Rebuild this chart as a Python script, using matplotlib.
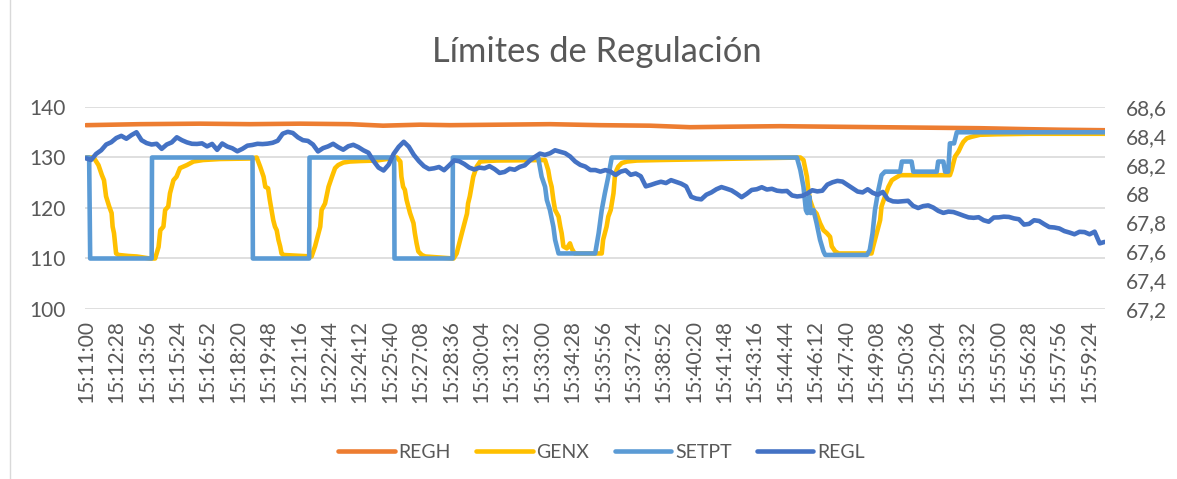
import numpy as np
import matplotlib
matplotlib.use('Agg')
import matplotlib.pyplot as plt
from matplotlib.ticker import FuncFormatter
from matplotlib.lines import Line2D

plt.rcParams['font.family'] = ['Lato', 'DejaVu Sans']

#====================================== DATA (seconds after 15:11:00) ======================================
TIME_LABELS = ['15:11:00', '15:12:28', '15:13:56', '15:15:24', '15:16:52', '15:18:20', '15:19:48',
               '15:21:16', '15:22:44', '15:24:12', '15:25:40', '15:27:08', '15:28:36', '15:30:04',
               '15:31:32', '15:33:00', '15:34:28', '15:35:56', '15:37:24', '15:38:52', '15:40:20',
               '15:41:48', '15:43:16', '15:44:44', '15:46:12', '15:47:40', '15:49:08', '15:50:36',
               '15:52:04', '15:53:32', '15:55:00', '15:56:28', '15:57:56', '15:59:24']
LABEL_STEP = 88
T_END = 2950

regh_t = [0, 156, 330, 475, 620, 764, 860, 967, 1054, 1199, 1343, 1489, 1633, 1749, 1865, 2009,
          2154, 2299, 2444, 2588, 2733, 2820, 2950]
regh = [136.4, 136.6, 136.7, 136.6, 136.7, 136.6, 136.3, 136.5, 136.4, 136.5, 136.6, 136.4, 136.3,
        136.0, 136.1, 136.2, 136.1, 136.0, 135.9, 135.8, 135.6, 135.5, 135.4]

genx_t = [0, 22, 36, 46, 52, 58, 67, 74, 77, 81, 87, 94, 123, 147, 185,
          200, 210, 215, 224, 229, 238, 243, 253, 262, 272, 292, 311, 339, 388, 475,
          494, 504, 514, 519, 527, 532, 537, 542, 547, 552, 557, 562, 566, 571, 648,
          653, 663, 668, 678, 682, 692, 702, 712, 721, 730, 745, 764, 794, 841,
          900, 910, 913, 918, 923, 928, 933, 938, 948, 952, 957, 962, 972, 982, 1064,
          1073, 1083, 1088, 1093, 1103, 1106, 1111, 1116, 1121, 1131, 1141, 1160, 1189,
          1329, 1338, 1343, 1348, 1353, 1358, 1368, 1373, 1377, 1382, 1392, 1401, 1406, 1411, 1415, 1493,
          1497, 1507, 1512, 1519, 1527, 1531, 1536, 1541, 1551, 1566, 1595, 1662,
          2068, 2077, 2087, 2091, 2096, 2106, 2115, 2125, 2135, 2145, 2154, 2159, 2169, 2179, 2269,
          2274, 2279, 2289, 2299, 2303, 2313, 2323, 2333, 2342, 2357, 2501,
          2506, 2511, 2516, 2526, 2535, 2540, 2550, 2564, 2588, 2637, 2733, 2950]
genx = [130, 130, 128.5, 126.5, 125.5, 122.3, 120.3, 119.0, 116.3, 115.0, 111.0, 110.7, 110.5, 110.4, 110.0,
        110.0, 112.3, 115.6, 116.3, 119.6, 120.3, 122.9, 125.5, 126.2, 127.9, 128.5, 129.2, 129.5, 129.7, 129.8,
        130, 128.2, 126.2, 124.2, 123.9, 121.6, 119.6, 117.6, 116.3, 115.6, 113.7, 112.4, 111.0, 110.7, 110.4,
        110.4, 112.4, 113.7, 116.3, 119.6, 120.9, 124.2, 126.2, 127.9, 128.5, 129.0, 129.2, 129.3, 129.4,
        130, 129.2, 126.2, 124.2, 123.6, 121.6, 120.3, 119.0, 117.0, 115.0, 113.0, 111.4, 110.7, 110.4, 110.0,
        111.0, 113.7, 115.0, 116.3, 118.9, 120.9, 122.3, 124.2, 126.2, 128.2, 129.2, 129.3, 129.4,
        129.5, 127.5, 125.5, 124.2, 121.6, 119.6, 118.3, 116.3, 115.0, 112.4, 112.0, 113.0, 112.0, 111.4, 111.0, 111.0,
        113.7, 116.3, 118.3, 119.6, 122.9, 126.2, 127.5, 128.2, 128.9, 129.2, 129.4, 129.5,
        130, 129.5, 126.2, 123.6, 121.6, 119.6, 118.9, 117.0, 115.6, 115.0, 114.3, 112.4, 111.4, 111.0, 111.0,
        111.0, 112.4, 115.0, 117.6, 120.3, 122.3, 124.2, 125.5, 125.9, 126.5, 126.5,
        127.5, 128.9, 130.2, 131.2, 132.5, 133.1, 133.8, 134.1, 134.5, 134.6, 134.7, 134.7]

setpt_t = [0, 9, 12, 190, 191, 482, 483, 646, 647, 892, 893, 1061, 1062,
           1309, 1319, 1329, 1334, 1343, 1353, 1358, 1368, 1474, 1484, 1493, 1502, 1512, 1522,
           2058, 2068, 2077, 2084, 2088, 2094, 2098, 2106, 2115, 2125, 2135, 2140,
           2261, 2269, 2277, 2284, 2294, 2303, 2313, 2357, 2362, 2390, 2395,
           2463, 2467, 2482, 2487, 2496, 2501, 2513, 2521, 2950]
setpt = [130, 130, 110, 110, 130, 130, 110, 110, 130, 130, 110, 110, 130,
         130, 126.2, 124.2, 121.6, 119.6, 116.3, 113.7, 111.0, 111.0, 115.0, 119.6, 122.9, 126.2, 130,
         130, 127.5, 124.2, 119.6, 119.0, 122.3, 119.0, 119.6, 117.0, 113.7, 111.4, 110.7,
         110.7, 111.7, 115.0, 119.6, 123.6, 126.5, 127.2, 127.2, 129.2, 129.2, 127.2,
         127.2, 129.2, 129.2, 127.2, 127.2, 132.8, 132.8, 135.0, 135.0]

# REGL sampled every 14.6 s (secondary axis)
REGL_STEP = 14.6
regl = [68.244, 68.233, 68.275, 68.30, 68.34, 68.356, 68.385, 68.40, 68.38, 68.405,
        68.425, 68.37, 68.35, 68.34, 68.345, 68.31, 68.34, 68.355, 68.39, 68.37,
        68.355, 68.345, 68.344, 68.348, 68.327, 68.344, 68.303, 68.347, 68.326, 68.314,
        68.293, 68.31, 68.332, 68.337, 68.345, 68.343, 68.346, 68.352, 68.366, 68.415,
        68.428, 68.42, 68.39, 68.37, 68.365, 68.34, 68.292, 68.315, 68.327, 68.345,
        68.322, 68.304, 68.328, 68.338, 68.322, 68.30, 68.283, 68.226, 68.18, 68.16,
        68.20, 68.275, 68.324, 68.359, 68.325, 68.268, 68.225, 68.19, 68.17, 68.175,
        68.184, 68.162, 68.195, 68.23, 68.224, 68.205, 68.18, 68.167, 68.18, 68.175,
        68.19, 68.17, 68.143, 68.15, 68.172, 68.165, 68.185, 68.196, 68.229, 68.254,
        68.277, 68.268, 68.279, 68.30, 68.29, 68.28, 68.257, 68.222, 68.199, 68.187,
        68.163, 68.163, 68.152, 68.163, 68.152, 68.129, 68.152, 68.161, 68.13, 68.139,
        68.12, 68.05, 68.06, 68.072, 68.082, 68.073, 68.093, 68.081, 68.069, 68.05,
        67.978, 67.965, 67.96, 67.992, 68.008, 68.03, 68.045, 68.034, 68.022, 68.0,
        67.975, 67.998, 68.025, 68.03, 68.044, 68.028, 68.033, 68.02, 68.016, 68.018,
        67.987, 67.98, 67.984, 68.0, 68.023, 68.015, 68.02, 68.062, 68.078, 68.088,
        68.083, 68.06, 68.037, 68.014, 68.008, 68.03, 68.005, 67.992, 68.011, 67.96,
        67.946, 67.944, 67.947, 67.95, 67.915, 67.90, 67.913, 67.918, 67.903, 67.88,
        67.866, 67.875, 67.872, 67.86, 67.847, 67.835, 67.832, 67.836, 67.815, 67.805,
        67.834, 67.835, 67.84, 67.838, 67.828, 67.822, 67.785, 67.79, 67.815, 67.81,
        67.788, 67.768, 67.765, 67.758, 67.74, 67.73, 67.718, 67.735, 67.733, 67.718,
        67.736, 67.655, 67.665]
regl_t = np.arange(len(regl)) * REGL_STEP

#====================================== STYLE ======================================
C_REGH, C_GENX, C_SETPT, C_REGL = '#ED7D31', '#FFC000', '#5B9BD5', '#4472C4'
TXT = '#595959'
LW = 3.3
line_kw = dict(lw=LW, solid_capstyle='round', solid_joinstyle='round')

fig = plt.figure(figsize=(11.77, 4.79), dpi=100)
ax = fig.add_axes([85 / 1177, 1 - 309 / 479, 1020 / 1177, 202 / 479])
ax2 = ax.twinx()

ax.plot(regh_t, regh, color=C_REGH, label='REGH', **line_kw)
ax.plot(genx_t, genx, color=C_GENX, label='GENX', **line_kw)
ax.plot(setpt_t, setpt, color=C_SETPT, label='SETPT', **line_kw)
ax2.plot(regl_t, regl, color=C_REGL, label='REGL', **line_kw)

ax.set_xlim(-3, T_END)
ax.set_ylim(100, 140)
ax2.set_ylim(67.2, 68.6)
ax.set_yticks(np.arange(100, 141, 10))
ax2.set_yticks(np.arange(67.2, 68.61, 0.2))
ax2.yaxis.set_major_formatter(FuncFormatter(lambda v, p: ('%g' % round(v, 1)).replace('.', ',')))

ax.set_xticks(np.arange(len(TIME_LABELS)) * LABEL_STEP)
ax.set_xticklabels(TIME_LABELS, rotation=90)

ax.grid(axis='y', color='#D9D9D9', lw=1.2)
ax.set_axisbelow(True)
for a in (ax, ax2):
    for s in a.spines.values():
        s.set_visible(False)
ax.tick_params(axis='y', length=0, pad=14, labelsize=15, labelcolor=TXT)
ax.tick_params(axis='x', length=0, pad=8, labelsize=15, labelcolor=TXT)
ax2.tick_params(axis='y', length=0, pad=15, labelsize=15, labelcolor=TXT)

fig.text(0.507, 1 - 52 / 479, 'Límites de Regulación', ha='center', va='center',
         fontsize=24.8, color=TXT)

h1, l1 = ax.get_legend_handles_labels()
h2, l2 = ax2.get_legend_handles_labels()
fig.legend(h1 + h2, l1 + l2, loc='center', bbox_to_anchor=(0.511, 1 - 452 / 479), ncol=4,
           frameon=False, fontsize=14, labelcolor=TXT, handlelength=2.9, handletextpad=0.2,
           columnspacing=1.3)

# chart area border (left edge visible in the crop)
fig.add_artist(Line2D([10 / 1177, 10 / 1177], [0, 1], color='#D9D9D9', lw=1))

plt.savefig('out.png', dpi=100)
